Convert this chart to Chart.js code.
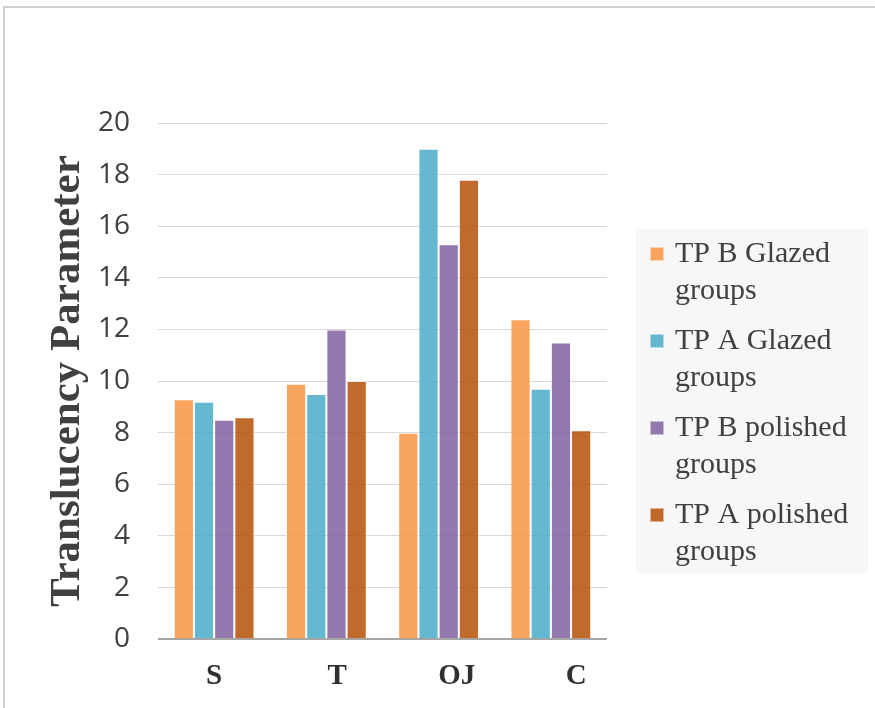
<!DOCTYPE html>
<html>
<head>
<meta charset="utf-8">
<script src="https://cdn.jsdelivr.net/npm/chart.js@4.4.1/dist/chart.umd.min.js"></script>
<style>
  body { margin: 0; background: #fff; }
  #wrap { position: relative; width: 875px; height: 708px; overflow: hidden; }
  #frame { position: absolute; left: 3px; top: 6px; right: -4px; bottom: -4px; border-top: 2px solid #cfcfcf; border-left: 2px solid #cfcfcf; }
  #tpChart { position: absolute; left: 0; top: 0; }
</style>
</head>
<body>
<div id="wrap">
  <div id="frame"></div>
  <canvas id="tpChart" width="875" height="708"></canvas>
</div>
<script>
const categories = ['S', 'T', 'OJ', 'C'];
const seriesNames = ['TP B Glazed groups', 'TP A Glazed groups', 'TP B polished groups', 'TP A polished groups'];
const tpBGlazed = [9.3, 9.9, 8.0, 12.4];
const tpAGlazed = [9.2, 9.5, 19.0, 9.7];
const tpBPolished = [8.5, 12.0, 15.3, 11.5];
const tpAPolished = [8.6, 10.0, 17.8, 8.1];
const yTicks = [0, 2, 4, 6, 8, 10, 12, 14, 16, 18, 20];

const colors = ['rgba(248,149,67,0.85)', 'rgba(74,171,199,0.85)', 'rgba(129,97,161,0.85)', 'rgba(181,80,6,0.85)'];
const labelIndent = [0, 3, 5, 7]; // leading spaces on the category labels

const allSeries = [tpBGlazed, tpAGlazed, tpBPolished, tpAPolished];

const datasets = allSeries.map((vals, i) => ({
    label: seriesNames[i],
    data: vals,
    backgroundColor: colors[i],
    borderColor: 'rgba(255,255,255,0.55)',
    borderWidth: 1,
    barPercentage: 1,
    categoryPercentage: 0.72
}));

// legend box on the right, labels wrapped to two lines
const wrapLegend = {
    id: 'wrapLegend',
    afterDraw(chart) {
        const ctx = chart.ctx;
        const box = { x: 636, y: 229, w: 232, h: 344 };
        ctx.save();
        ctx.fillStyle = '#f7f7f7';
        ctx.fillRect(box.x, box.y, box.w, box.h);
        ctx.font = '30px "Liberation Serif", serif';
        ctx.textBaseline = 'middle';
        ctx.textAlign = 'left';
        chart.data.datasets.forEach((ds, i) => {
            const top = box.y + 6 + i * 87;
            ctx.fillStyle = ds.backgroundColor;
            ctx.fillRect(box.x + 14, top + 12, 14, 14);
            ctx.strokeStyle = 'rgba(255,255,255,0.5)';
            ctx.lineWidth = 1;
            ctx.strokeRect(box.x + 14.5, top + 12.5, 13, 13);

            // split label into lines that fit the box
            const words = ds.label.split(' ');
            const lines = [];
            let line = '';
            words.forEach(w => {
                const test = line ? line + ' ' + w : w;
                if (line && ctx.measureText(test).width > 190) {
                    lines.push(line);
                    line = w;
                } else {
                    line = test;
                }
            });
            lines.push(line);

            ctx.fillStyle = '#404040';
            lines.forEach((l, k) => ctx.fillText(l, box.x + 39, top + 19 + k * 37));
        });
        ctx.restore();
    }
};

new Chart(document.getElementById('tpChart'), {
    type: 'bar',
    data: { labels: categories, datasets },
    plugins: [wrapLegend],
    options: {
        responsive: false,
        animation: false,
        layout: { padding: { left: 42, top: 123, right: 268, bottom: 2 } },
        plugins: {
            legend: { display: false },
            tooltip: { enabled: false }
        },
        scales: {
            x: {
                grid: { display: false },
                border: { display: false },
                ticks: {
                    color: '#303030',
                    padding: 12,
                    font: { family: 'Liberation Serif', weight: 'bold', size: 29 },
                    callback: (v, i) => ' '.repeat(labelIndent[i]) + categories[i]
                }
            },
            y: {
                min: 0,
                max: 20,
                afterBuildTicks: axis => { axis.ticks = yTicks.map(v => ({ value: v })); },
                afterFit: axis => { axis.width = 116; },
                grid: {
                    drawTicks: false,
                    color: ctx => ctx.tick && ctx.tick.value === 0 ? '#a6a6a6' : '#d9d9d9',
                    lineWidth: ctx => ctx.tick && ctx.tick.value === 0 ? 2 : 1
                },
                border: { display: false },
                ticks: {
                    color: '#404040',
                    padding: 28,
                    font: { family: 'Open Sans', size: 28 }
                },
                title: {
                    display: true,
                    text: 'Translucency Parameter',
                    color: '#404040',
                    padding: { top: 0, bottom: 4 },
                    font: { family: 'Liberation Serif', weight: 'bold', size: 43 }
                }
            }
        }
    }
});
</script>
</body>
</html>
